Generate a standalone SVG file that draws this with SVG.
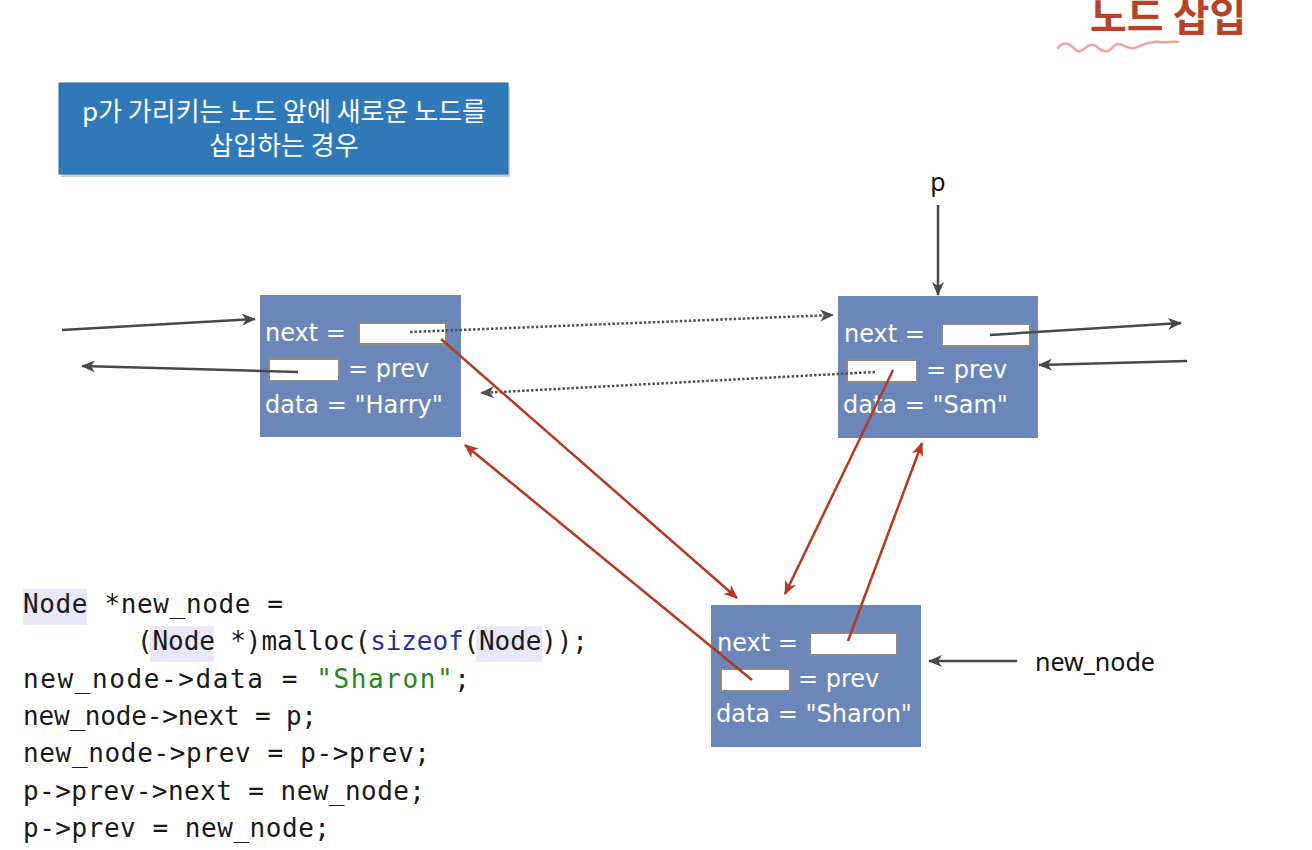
<svg xmlns="http://www.w3.org/2000/svg" width="1312" height="850" viewBox="0 0 1312 850">
<style>
.node{fill:#6b87b9}
.slot{fill:#ffffff;stroke:#8a8a8a;stroke-width:2}
.nt{font-family:"DejaVu Sans",sans-serif;font-size:24px;fill:#ffffff}
.code{font-family:"DejaVu Sans Mono","Liberation Mono",monospace;font-size:26px;fill:#1a1a1a}
.hl{fill:#e8e8f8}
.blk{stroke:#484848;stroke-width:2.5;fill:none}
.dot{stroke:#505050;stroke-width:2.5;fill:none;stroke-dasharray:2.5 2}
.red{stroke:#b5391f;stroke-width:2.5;fill:none}
.lbl{font-family:"Noto Sans","DejaVu Sans",sans-serif;font-size:25px;fill:#111111}
</style>
<defs>
<marker id="ak" viewBox="0 0 14 12" refX="13" refY="6" markerWidth="14" markerHeight="12" markerUnits="userSpaceOnUse" orient="auto"><path d="M0,0 L14,6 L0,12 L4,6 z" fill="#484848"/></marker>
<marker id="ad" viewBox="0 0 14 12" refX="13" refY="6" markerWidth="14" markerHeight="12" markerUnits="userSpaceOnUse" orient="auto"><path d="M0,0 L14,6 L0,12 L4,6 z" fill="#505050"/></marker>
<marker id="ar" viewBox="0 0 14 12" refX="13" refY="6" markerWidth="14" markerHeight="12" markerUnits="userSpaceOnUse" orient="auto"><path d="M0,0 L14,6 L0,12 L4,6 z" fill="#b5391f"/></marker>
</defs>
<rect width="1312" height="850" fill="#ffffff"/>
<g id="title">
<text x="1090" y="31" font-family="'Noto Sans CJK KR',sans-serif" font-weight="bold" font-size="40" fill="#b9412a">노드 삽입</text>
<path d="M1058,48 C1064,40 1070,44 1076,50 C1082,56 1088,40 1096,46 C1102,52 1108,54 1114,46 C1120,40 1126,50 1134,48 C1142,46 1150,40 1160,42 C1168,43 1174,41 1178,42" fill="none" stroke="#f2a3a0" stroke-width="2.5" stroke-linecap="round"/>
</g>
<g id="caption">
<rect x="61" y="86" width="449" height="91" fill="#9fb4c8" opacity="0.6"/>
<rect x="59" y="83" width="449" height="91" fill="#2f79b9" stroke="#2a6aa3" stroke-width="1"/>
<text x="284" y="121" text-anchor="middle" font-family="'Noto Sans CJK KR',sans-serif" font-size="26" fill="#ffffff">p가 가리키는 노드 앞에 새로운 노드를</text>
<text x="284" y="155" text-anchor="middle" font-family="'Noto Sans CJK KR',sans-serif" font-size="26" fill="#ffffff">삽입하는 경우</text>
</g>
<g id="node-harry">
<rect class="node" x="260" y="295" width="201" height="142"/>
<text class="nt" x="265" y="341">next =</text>
<rect class="slot" x="359" y="323" width="87" height="21"/>
<rect class="slot" x="269" y="359" width="70" height="22"/>
<text class="nt" x="348" y="377">= prev</text>
<text class="nt" x="265" y="413">data = "Harry"</text>
</g>
<g id="node-sam">
<rect class="node" x="838" y="296" width="200" height="142"/>
<text class="nt" x="844" y="342">next =</text>
<rect class="slot" x="942" y="324" width="88" height="22"/>
<rect class="slot" x="847" y="360" width="70" height="22"/>
<text class="nt" x="926" y="378">= prev</text>
<text class="nt" x="843" y="413">data = "Sam"</text>
</g>
<g id="node-sharon">
<rect class="node" x="711" y="605" width="210" height="142"/>
<text class="nt" x="717" y="651">next =</text>
<rect class="slot" x="810" y="633" width="87" height="22"/>
<rect class="slot" x="721" y="669" width="69" height="22"/>
<text class="nt" x="798" y="687">= prev</text>
<text class="nt" x="716" y="722">data = "Sharon"</text>
</g>
<g id="label-p">
<text class="lbl" x="938" y="191" text-anchor="middle">p</text>
</g>
<g id="label-new-node">
<text class="lbl" x="1035" y="671">new_node</text>
</g>
<g id="connectors">
<line class="blk" x1="62" y1="330" x2="255" y2="319" marker-end="url(#ak)"/>
<line class="blk" x1="298" y1="372" x2="82" y2="366" marker-end="url(#ak)"/>
<line class="dot" x1="410" y1="332" x2="833" y2="315" marker-end="url(#ad)"/>
<line class="dot" x1="875" y1="372" x2="481" y2="393" marker-end="url(#ad)"/>
<line class="blk" x1="990" y1="335" x2="1181" y2="323" marker-end="url(#ak)"/>
<line class="blk" x1="1187" y1="361" x2="1039" y2="365" marker-end="url(#ak)"/>
<line class="blk" x1="938" y1="205" x2="938" y2="295" marker-end="url(#ak)"/>
<line class="blk" x1="1017" y1="661" x2="929" y2="661" marker-end="url(#ak)"/>
<line class="red" x1="441" y1="339" x2="737" y2="598" marker-end="url(#ar)"/>
<line class="red" x1="752" y1="680" x2="465" y2="445" marker-end="url(#ar)"/>
<line class="red" x1="893" y1="370" x2="785" y2="594" marker-end="url(#ar)"/>
<line class="red" x1="848" y1="641" x2="922" y2="443" marker-end="url(#ar)"/>
</g>
<g id="code">
<rect class="hl" x="23" y="589" width="64" height="36"/>
<rect class="hl" x="150" y="626" width="64" height="36"/>
<rect class="hl" x="476" y="626" width="66" height="36"/>
<text class="code" x="23" y="613" textLength="260" lengthAdjust="spacing">Node *new_node =</text>
<text class="code" x="137" y="650" textLength="451" lengthAdjust="spacing">(Node *)malloc(<tspan fill="#23349a">sizeof</tspan>(Node));</text>
<text class="code" x="23" y="688" textLength="447" lengthAdjust="spacing">new_node-&gt;data = <tspan fill="#1e8a1e">"Sharon"</tspan>;</text>
<text class="code" x="23" y="725" textLength="294" lengthAdjust="spacing">new_node-&gt;next = p;</text>
<text class="code" x="23" y="762" textLength="407" lengthAdjust="spacing">new_node-&gt;prev = p-&gt;prev;</text>
<text class="code" x="23" y="800" textLength="402" lengthAdjust="spacing">p-&gt;prev-&gt;next = new_node;</text>
<text class="code" x="23" y="837" textLength="307" lengthAdjust="spacing">p-&gt;prev = new_node;</text>
</g>
</svg>
